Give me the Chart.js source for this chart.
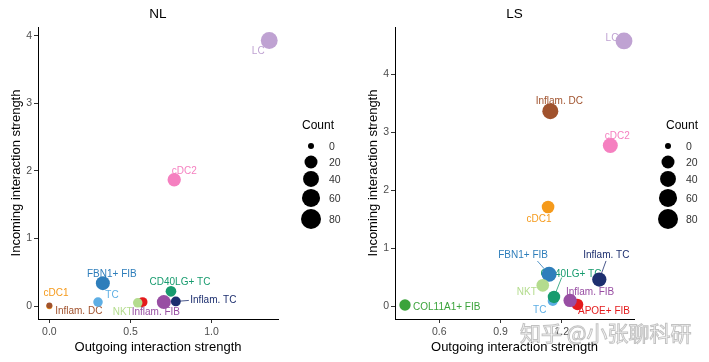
<!DOCTYPE html>
<html>
<head>
<meta charset="utf-8">
<script src="https://cdn.jsdelivr.net/npm/chart.js@4.4.1/dist/chart.umd.min.js"></script>
<style>
  html, body { margin: 0; padding: 0; background: #fff; }
  #wrap { display: flex; width: 709px; height: 362px; }
  canvas { display: block; }
</style>
</head>
<body>
<div id="wrap">
  <canvas id="nl" width="355" height="362"></canvas>
  <canvas id="ls" width="354" height="362"></canvas>
</div>
<script>
// cell types, in drawing order
const cellTypes = ['COL11A1+ FIB', 'APOE+ FIB', 'FBN1+ FIB', 'Inflam. FIB', 'cDC1', 'cDC2',
  'Inflam. DC', 'LC', 'TC', 'Inflam. TC', 'CD40LG+ TC', 'NKT'];
const cellColors = ['#3BA33B', '#E41A1C', '#2E7EBB', '#984EA3', '#F59A1B', '#F580C0',
  '#A0522D', '#BFA2D2', '#5DAEE4', '#1D2F6F', '#179B6E', '#B4DC8E'];

// NL
const nlOutgoing = [0.56, 0.575, 0.33, 0.706, 0.0, 0.77, 0.0, 1.356, 0.30, 0.78, 0.75, 0.545];
const nlIncoming = [0.05, 0.06, 0.34, 0.06, 0.0, 1.87, 0.01, 3.93, 0.06, 0.07, 0.22, 0.05];
const nlCount = [3, 6, 26, 26, 0, 22, 0, 48, 5, 6, 9, 5];
const nlXTicks = [0, 0.5, 1.0];
const nlXTickLabels = ['0.0', '0.5', '1.0'];
const nlYTicks = [0, 1, 2, 3, 4];

// LS
const lsOutgoing = [0.432, 1.277, 1.138, 1.241, 1.133, 1.438, 1.144, 1.505, 1.156, 1.384, 1.162, 1.107];
const lsIncoming = [0.02, 0.03, 0.55, 0.10, 1.71, 2.77, 3.36, 4.57, 0.09, 0.46, 0.16, 0.36];
const lsCount = [12, 13, 33, 22, 18, 33, 41, 48, 7, 28, 17, 18];
const lsXTicks = [0.6, 0.9, 1.2];
const lsXTickLabels = ['0.6', '0.9', '1.2'];
const lsYTicks = [0, 1, 2, 3, 4];

const countBreaks = [0, 20, 40, 60, 80];

const sizeOf = c => 3 + 7 * Math.sqrt(c / 80);
const FONT = '"Liberation Sans", Arial, sans-serif';

// label offsets (px) from point centre; null = no label drawn
const nlLabelPos = [null, null, [9, -9], [-8, 10], [6.7, -13], [10, -9], [29.4, 5.7], [-11, 11],
  [14, -7], [37.5, -1], [9, -9], [-15, 9]];
const nlLeaders = { 9: [13, -1] };
const lsLabelPos = [[41.7, 2.3], [26.5, 6.4], [-26, -19], [20, -8.3], [-9, 12.5], [7, -9], [9, -9.6],
  [-12, -3], [-13, 9.7], [7, -24.3], [17, -22.7], [-16, 6.7]];
const lsLeaders = { 2: [-11.7, -13.3], 9: [6.7, -18.6], 10: [7.7, -19.4] };

function makeDecor(cfg) {
  return {
    id: 'decor',
    beforeDatasetsDraw(chart) {
      const ctx = chart.ctx;
      const meta = chart.getDatasetMeta(0);
      ctx.save();
      ctx.font = '10px ' + FONT;
      ctx.textAlign = 'center';
      ctx.textBaseline = 'middle';
      meta.data.forEach((pt, i) => {
        const off = cfg.labelPos[i];
        if (!off) return;
        const lead = cfg.leaders[i];
        if (lead) {
          ctx.strokeStyle = cellColors[i];
          ctx.lineWidth = 0.8;
          ctx.beginPath();
          ctx.moveTo(pt.x, pt.y);
          ctx.lineTo(pt.x + lead[0], pt.y + lead[1]);
          ctx.stroke();
        }
        ctx.fillStyle = cellColors[i];
        ctx.fillText(cellTypes[i], pt.x + off[0], pt.y + off[1]);
      });
      ctx.restore();
    },
    afterDraw(chart) {
      const ctx = chart.ctx, a = chart.chartArea;
      ctx.save();
      // panel title
      ctx.fillStyle = '#000';
      ctx.font = '13.5px ' + FONT;
      ctx.textAlign = 'center';
      ctx.textBaseline = 'middle';
      ctx.fillText(cfg.title, (a.left + a.right) / 2, 14);
      // size legend
      ctx.textAlign = 'left';
      ctx.font = '12px ' + FONT;
      ctx.fillText('Count', a.right + cfg.legendTitleX, 126);
      ctx.font = '10.5px ' + FONT;
      let y = 146, prevH = null;
      countBreaks.forEach(c => {
        const r = sizeOf(c);
        const h = Math.max(16, 2 * r + 2);
        if (prevH !== null) y += (prevH + h) / 2;
        prevH = h;
        ctx.fillStyle = '#000';
        ctx.beginPath();
        ctx.arc(a.right + cfg.legendDotX, y, r, 0, Math.PI * 2);
        ctx.fill();
        ctx.fillStyle = '#333';
        ctx.fillText(String(c), a.right + cfg.legendDotX + 18, y + 1);
      });
      if (cfg.watermark) {
        ctx.font = '21px "Noto Sans CJK SC", sans-serif';
        ctx.textAlign = 'left';
        ctx.fillStyle = 'rgba(255,255,255,0.85)';
        ctx.strokeStyle = 'rgba(120,120,120,0.45)';
        ctx.lineWidth = 1;
        ctx.fillText(cfg.watermark, 165, 333);
        ctx.strokeText(cfg.watermark, 165, 333);
      }
      ctx.restore();
    }
  };
}

function axisOpts(extra) {
  return Object.assign({
    type: 'linear',
    grid: { display: true, drawOnChartArea: false, drawTicks: true, tickLength: 4, color: '#333', lineWidth: 1 },
    border: { display: true, color: '#000', width: 1 },
  }, extra);
}

function makePanel(id, o) {
  new Chart(document.getElementById(id), {
    type: 'scatter',
    data: {
      datasets: [{
        data: o.xs.map((x, i) => ({ x: x, y: o.ys[i] })),
        pointRadius: o.counts.map(sizeOf),
        pointBackgroundColor: cellColors,
        pointBorderWidth: 0,
        pointBorderColor: cellColors,
      }]
    },
    options: {
      responsive: false,
      animation: false,
      events: [],
      devicePixelRatio: 1,
      layout: { padding: { top: 27, right: o.padRight, left: 0, bottom: 0 } },
      plugins: { legend: { display: false }, tooltip: { enabled: false } },
      scales: {
        x: axisOpts({
          min: o.xMin, max: o.xMax,
          afterBuildTicks: s => { s.ticks = o.xTicks.map(v => ({ value: v })); },
          afterFit: s => { s.height = 43; },
          ticks: { color: '#4D4D4D', font: { size: 10.5, family: FONT }, padding: 3, maxRotation: 0,
            callback: (v, i) => o.xTickLabels[i] },
          title: { display: true, text: 'Outgoing interaction strength', color: '#000',
            font: { size: 13, family: FONT }, padding: { top: 0, bottom: 7 } },
        }),
        y: axisOpts({
          min: o.yMin, max: o.yMax,
          afterBuildTicks: s => { s.ticks = o.yTicks.map(v => ({ value: v })); },
          afterFit: s => { s.width = o.yWidth; },
          ticks: { color: '#4D4D4D', font: { size: 10.5, family: FONT }, padding: 2,
            callback: v => String(v) },
          title: { display: true, text: 'Incoming interaction strength', color: '#000',
            font: { size: 13, family: FONT }, padding: { top: o.yTitlePad, bottom: 0 } },
        }),
      }
    },
    plugins: [makeDecor(o.decor)]
  });
}

makePanel('nl', {
  xs: nlOutgoing, ys: nlIncoming, counts: nlCount,
  xMin: -0.07, xMax: 1.41, yMin: -0.19, yMax: 4.13,
  xTicks: nlXTicks, xTickLabels: nlXTickLabels, yTicks: nlYTicks,
  padRight: 77, yWidth: 38, yTitlePad: 9,
  decor: { title: 'NL', labelPos: nlLabelPos, leaders: nlLeaders, legendTitleX: 24, legendDotX: 33 }
});

makePanel('ls', {
  xs: lsOutgoing, ys: lsIncoming, counts: lsCount,
  xMin: 0.383, xMax: 1.554, yMin: -0.22, yMax: 4.81,
  xTicks: lsXTicks, xTickLabels: lsXTickLabels, yTicks: lsYTicks,
  padRight: 75, yWidth: 40, yTitlePad: 11,
  decor: { title: 'LS', labelPos: lsLabelPos, leaders: lsLeaders, legendTitleX: 32, legendDotX: 34,
    watermark: '知乎 @小张聊科研' }
});
</script>
</body>
</html>
